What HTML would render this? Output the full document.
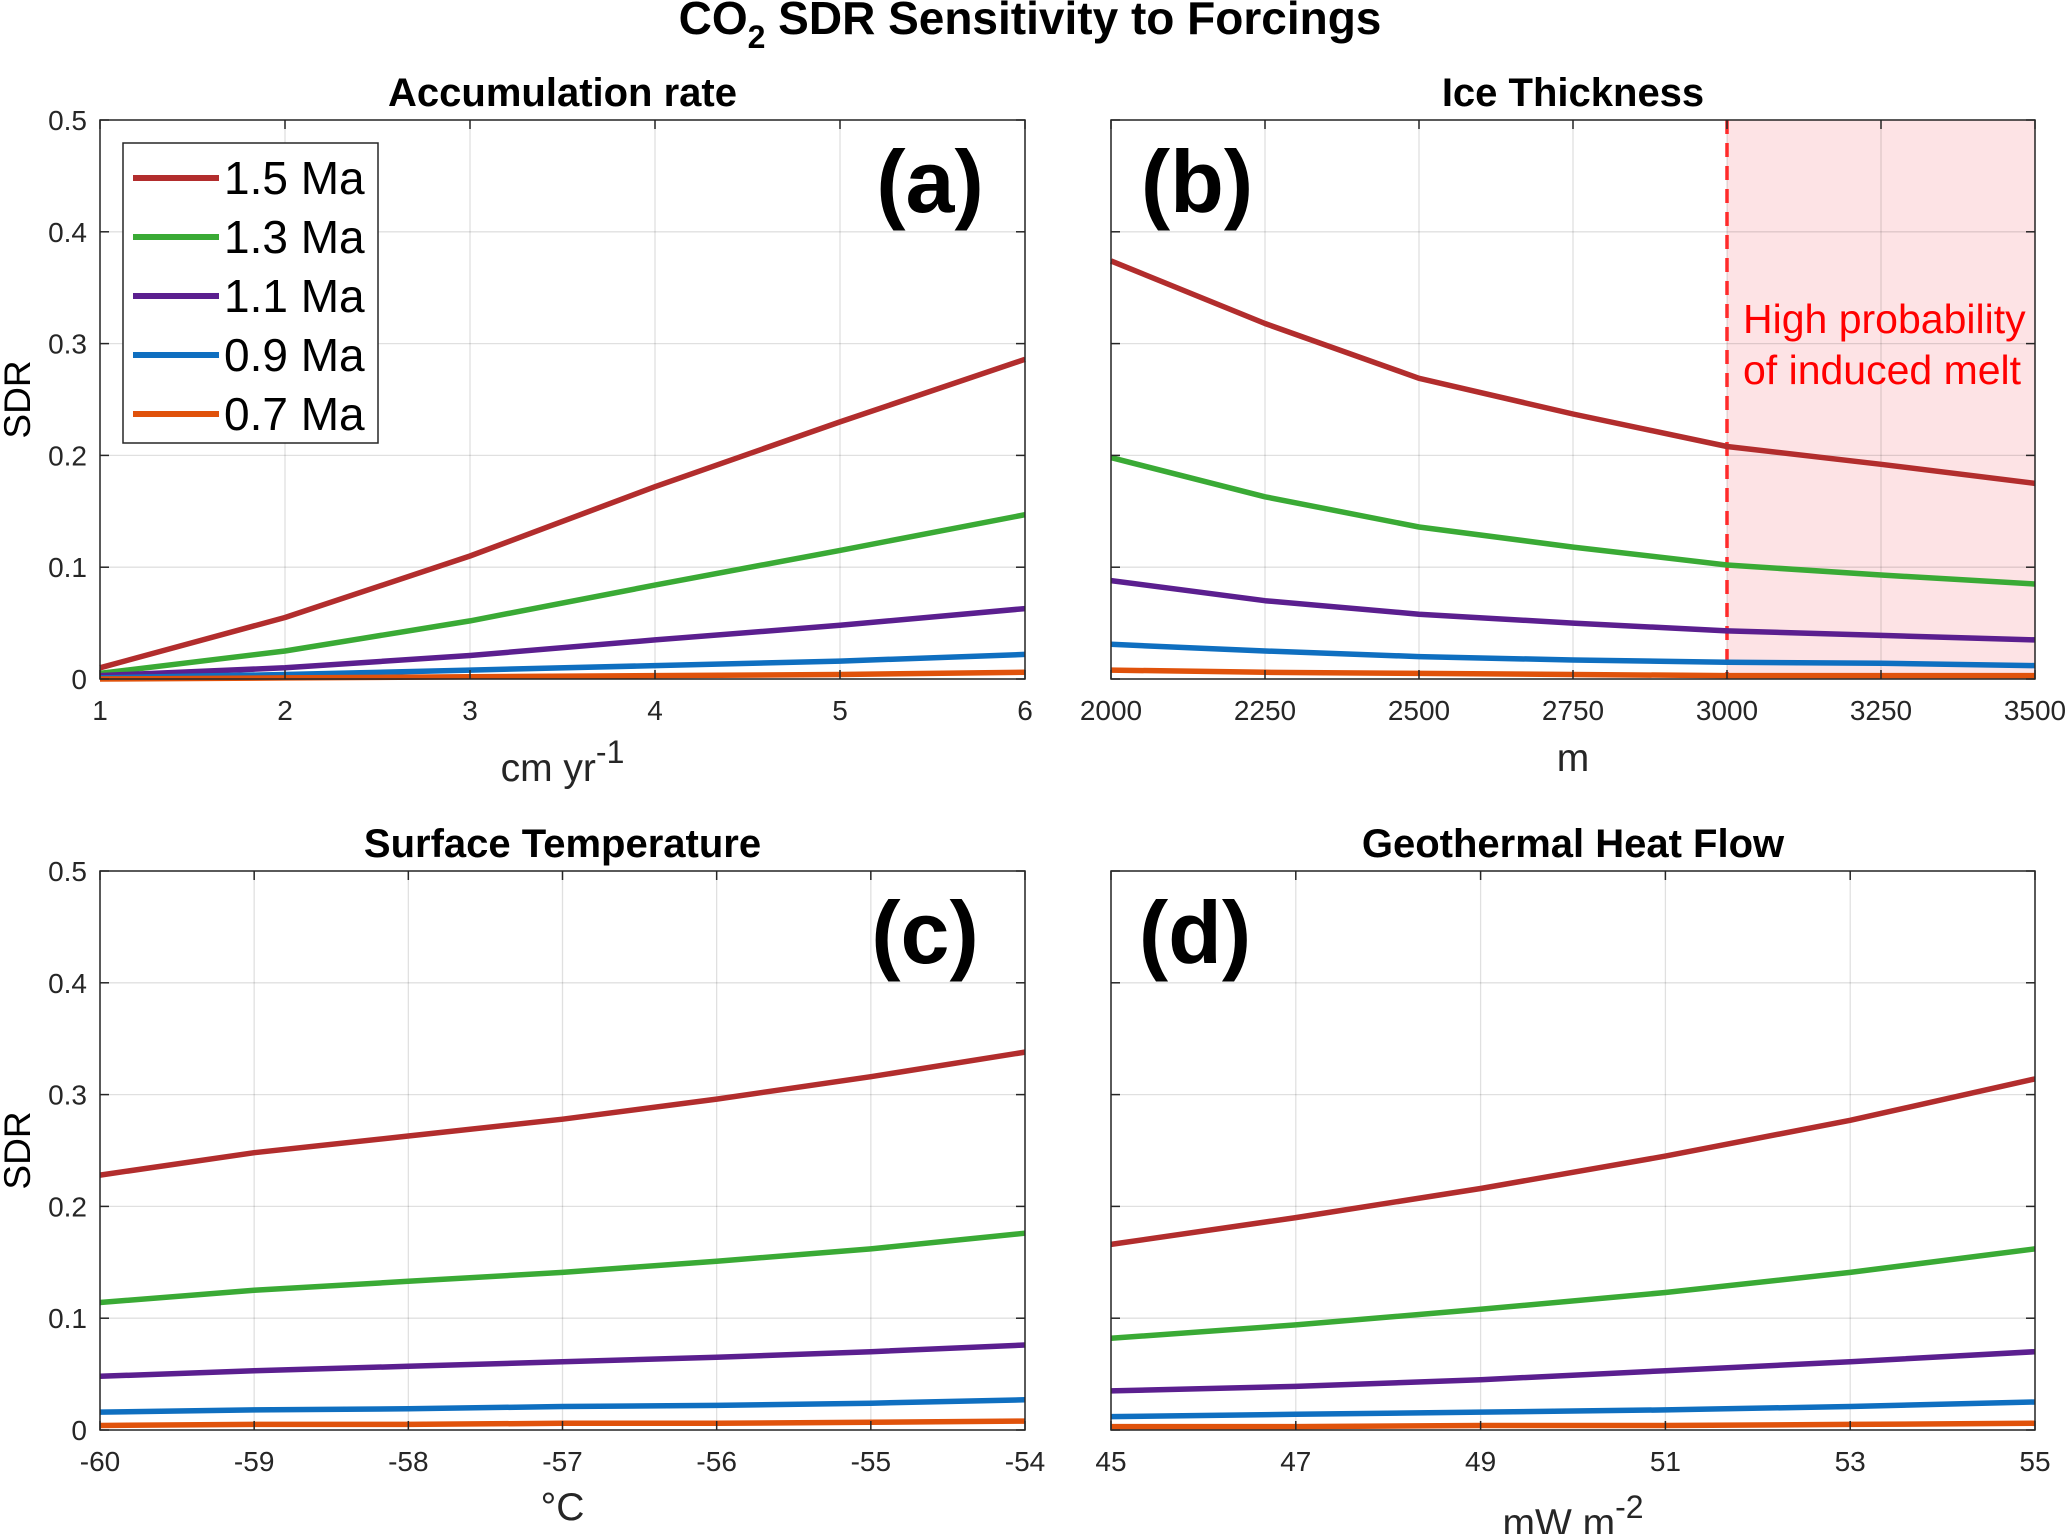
<!DOCTYPE html>
<html><head><meta charset="utf-8"><style>
html,body{margin:0;padding:0;background:#fff;}
svg{display:block;font-family:"Liberation Sans",Arial,sans-serif;}
</style></head><body>
<svg id="chart" width="2067" height="1534" viewBox="0 0 2067 1534" xmlns="http://www.w3.org/2000/svg">
<text x="1030" y="34" text-anchor="middle" font-size="46" font-weight="bold">CO<tspan font-size="32" dy="14">2</tspan><tspan dy="-14"> SDR Sensitivity to Forcings</tspan></text>
</svg>
<script>
const seriesNames = ["1.5 Ma","1.3 Ma","1.1 Ma","0.9 Ma","0.7 Ma"];
const seriesColors = ["#b22d2d","#3aaa35","#5b1f8f","#0f6fc0","#e0520b"];
const yTicks = [0,0.1,0.2,0.3,0.4,0.5];
const yTickLabels = ["0","0.1","0.2","0.3","0.4","0.5"];

const aX = [1,2,3,4,5,6];
const aTicks = [1,2,3,4,5,6];
const aRed = [0.010,0.055,0.110,0.172,0.230,0.286];
const aGreen = [0.005,0.025,0.052,0.084,0.115,0.147];
const aPurple = [0.003,0.010,0.021,0.035,0.048,0.063];
const aBlue = [0.001,0.004,0.008,0.012,0.016,0.022];
const aOrange = [0.000,0.001,0.002,0.003,0.004,0.006];

const bX = [2000,2250,2500,2750,3000,3250,3500];
const bTicks = [2000,2250,2500,2750,3000,3250,3500];
const bRed = [0.374,0.318,0.269,0.237,0.208,0.192,0.175];
const bGreen = [0.198,0.163,0.136,0.118,0.102,0.093,0.085];
const bPurple = [0.088,0.070,0.058,0.050,0.043,0.039,0.035];
const bBlue = [0.031,0.025,0.020,0.017,0.015,0.014,0.012];
const bOrange = [0.008,0.006,0.005,0.004,0.003,0.003,0.003];
const bMeltStart = 3000;

const cX = [-60,-59,-58,-57,-56,-55,-54];
const cTicks = [-60,-59,-58,-57,-56,-55,-54];
const cRed = [0.228,0.248,0.263,0.278,0.296,0.316,0.338];
const cGreen = [0.114,0.125,0.133,0.141,0.151,0.162,0.176];
const cPurple = [0.048,0.053,0.057,0.061,0.065,0.070,0.076];
const cBlue = [0.016,0.018,0.019,0.021,0.022,0.024,0.027];
const cOrange = [0.004,0.005,0.005,0.006,0.006,0.007,0.008];

const dX = [45,47,49,51,53,55];
const dTicks = [45,47,49,51,53,55];
const dRed = [0.166,0.190,0.216,0.245,0.277,0.314];
const dGreen = [0.082,0.094,0.108,0.123,0.141,0.162];
const dPurple = [0.035,0.039,0.045,0.053,0.061,0.070];
const dBlue = [0.012,0.014,0.016,0.018,0.021,0.025];
const dOrange = [0.003,0.003,0.004,0.004,0.005,0.006];

const NS="http://www.w3.org/2000/svg";
const svg=document.getElementById('chart');
function mk(tag,attrs,parent){const e=document.createElementNS(NS,tag);for(const k in attrs)e.setAttribute(k,attrs[k]);(parent||svg).appendChild(e);return e;}

const panels=[
 {id:'a',title:'Accumulation rate',L:100,R:1025,T:120,B:679,x:aX,ticks:aTicks,xmin:1,xmax:6,s:[aRed,aGreen,aPurple,aBlue,aOrange],ylab:true,tag:'(a)',tagX:930},
 {id:'b',title:'Ice Thickness',L:1111,R:2035,T:120,B:679,x:bX,ticks:bTicks,xmin:2000,xmax:3500,s:[bRed,bGreen,bPurple,bBlue,bOrange],ylab:false,tag:'(b)',tagX:1197},
 {id:'c',title:'Surface Temperature',L:100,R:1025,T:871,B:1430,x:cX,ticks:cTicks,xmin:-60,xmax:-54,s:[cRed,cGreen,cPurple,cBlue,cOrange],ylab:true,tag:'(c)',tagX:925},
 {id:'d',title:'Geothermal Heat Flow',L:1111,R:2035,T:871,B:1430,x:dX,ticks:dTicks,xmin:45,xmax:55,s:[dRed,dGreen,dPurple,dBlue,dOrange],ylab:false,tag:'(d)',tagX:1195}
];
const xLabels={a:['cm yr','-1'],b:['m',''],c:['°C',''],d:['mW m','-2']};
const xLabelY={a:781,b:771,c:1520,d:1536};

panels.forEach(p=>{
 const g=mk('g',{});
 
 
 const sx=v=>p.L+(v-p.xmin)/(p.xmax-p.xmin)*(p.R-p.L);
 const sy=v=>p.B-v/0.5*(p.B-p.T);
 if(p.id==='b'){
  const r=mk('rect',{x:sx(bMeltStart),y:p.T,width:p.R-sx(bMeltStart),height:p.B-p.T,fill:'#fde3e5'},g);
  
  
 }
 p.ticks.forEach(t=>{mk('line',{x1:sx(t),x2:sx(t),y1:p.T,y2:p.B,stroke:'#000','stroke-opacity':0.12,'stroke-width':1.3},g);});
 yTicks.forEach(t=>{mk('line',{x1:p.L,x2:p.R,y1:sy(t),y2:sy(t),stroke:'#000','stroke-opacity':0.12,'stroke-width':1.3},g);});
 if(p.id==='b'){
  const dl=mk('line',{x1:sx(bMeltStart),x2:sx(bMeltStart),y1:p.T,y2:p.B,stroke:'#ff2a2a','stroke-width':3.5,'stroke-dasharray':'14 9'},g);
  
  
  const t1=mk('text',{x:1743,y:333,'font-size':41,fill:'#ff0000'},g);t1.textContent='High probability';
  
  
  const t2=mk('text',{x:1743,y:384,'font-size':41,fill:'#ff0000'},g);t2.textContent='of induced melt';
  
  
 }
 p.s.forEach((arr,i)=>{
  const pts=arr.map((v,j)=>sx(p.x[j]).toFixed(1)+','+sy(v).toFixed(1)).join(' ');
  const pl=mk('polyline',{points:pts,fill:'none',stroke:seriesColors[i],'stroke-width':5.5,'stroke-linejoin':'round'},g);
  
  
 });
 mk('rect',{x:p.L,y:p.T,width:p.R-p.L,height:p.B-p.T,fill:'none',stroke:'#262626','stroke-width':1.5},g);
 p.ticks.forEach((t,k)=>{
  mk('line',{x1:sx(t),x2:sx(t),y1:p.B,y2:p.B-9,stroke:'#262626','stroke-width':1.5},g);
  mk('line',{x1:sx(t),x2:sx(t),y1:p.T,y2:p.T+9,stroke:'#262626','stroke-width':1.5},g);
  const tl=mk('text',{x:sx(t),y:p.B+41,'font-size':28,'text-anchor':'middle',fill:'#262626'},g);
  tl.textContent=String(t);
  
  
 });
 yTicks.forEach((t,k)=>{
  mk('line',{x1:p.L,x2:p.L+9,y1:sy(t),y2:sy(t),stroke:'#262626','stroke-width':1.5},g);
  mk('line',{x1:p.R,x2:p.R-9,y1:sy(t),y2:sy(t),stroke:'#262626','stroke-width':1.5},g);
  if(p.ylab){
   const tl=mk('text',{x:p.L-13,y:sy(t)+10,'font-size':28,'text-anchor':'end',fill:'#262626'},g);
   tl.textContent=yTickLabels[k];
   
   
  }
 });
 if(p.ylab){
  const yl=mk('text',{x:0,y:0,'font-size':37,'text-anchor':'middle',transform:`translate(30 ${(p.T+p.B)/2}) rotate(-90)`},g);
  yl.textContent='SDR';
  
  
 }
 const tt=mk('text',{x:(p.L+p.R)/2,y:p.T-14,'font-size':40,'font-weight':'bold','text-anchor':'middle'},g);
 tt.textContent=p.title;
 
 
 const tg=mk('text',{x:p.tagX,y:p.T+92,'font-size':88,'font-weight':'bold','text-anchor':'middle'},g);
 tg.textContent=p.tag;
 
 
 const xl=mk('text',{x:(p.L+p.R)/2,y:xLabelY[p.id],'font-size':39,'text-anchor':'middle',fill:'#262626'},g);
 xl.textContent=xLabels[p.id][0];
 if(xLabels[p.id][1]){const ts=mk('tspan',{dy:-18,'font-size':32},xl);ts.textContent=xLabels[p.id][1];}
 
 
});

const lg=mk('g',{});


mk('rect',{x:123,y:143,width:255,height:300,fill:'#fff',stroke:'#262626','stroke-width':1.5},lg);
seriesNames.forEach((n,i)=>{
 const y=178+i*59;
 const e=mk('g',{},lg);
 
 
 mk('line',{x1:133,x2:219,y1:y,y2:y,stroke:seriesColors[i],'stroke-width':6},e);
 const t=mk('text',{x:224,y:y+16,'font-size':46,fill:'#000'},e);
 t.textContent=n;
});
</script>
</body></html>
